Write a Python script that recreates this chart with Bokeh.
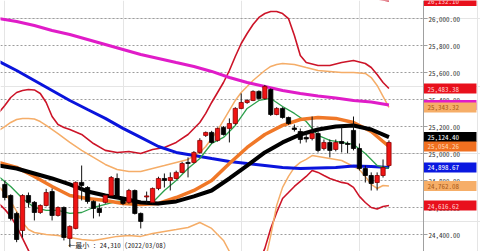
import numpy as np
from bokeh.plotting import figure
from bokeh.models import (Range1d, SingleIntervalTicker, NumeralTickFormatter, Label,
                          LinearAxis, Grid, BoxAnnotation)
from bokeh.embed import file_html
from bokeh.resources import INLINE

FONT = "'Noto Sans Mono CJK JP', 'DejaVu Sans Mono', monospace"

# ---- daily candles ----
opens = [24773, 24691, 24558, 24432, 24691, 24640, 24565, 24617, 24720, 24543,
         24602, 24373, 24447, 24788, 24750, 24647, 24595, 24640, 24691, 24817,
         24662, 24640, 24728, 24558, 24680, 24640, 24743, 24817, 24802, 24817,
         24862, 24936, 24936, 25010, 25136, 25158, 25099, 25195, 25188, 25224,
         25336, 25380, 25395, 25462, 25410, 25476, 25291, 25336, 25269, 25191,
         25165, 25121, 25113, 25150, 25039, 25084, 25032, 25091, 25076, 25173,
         25039, 24891, 24839, 24787, 24839, 24913]
highs = [24800, 24700, 24570, 24700, 24713, 24650, 24625, 24740, 24743, 24610,
         24610, 24470, 24795, 24913, 24760, 24655, 24632, 24700, 24835, 24854,
         24670, 24740, 24735, 24565, 24720, 24750, 24830, 24854, 24862, 24875,
         24940, 24973, 25020, 25115, 25165, 25170, 25195, 25205, 25262, 25345,
         25447, 25405, 25470, 25470, 25510, 25485, 25345, 25345, 25275, 25217,
         25187, 25158, 25276, 25173, 25106, 25106, 25106, 25195, 25091, 25276,
         25076, 24913, 24862, 24862, 24958, 25099]
lows = [24655, 24505, 24345, 24380, 24602, 24506, 24555, 24610, 24506, 24535,
        24358, 24310, 24440, 24654, 24630, 24521, 24536, 24630, 24685, 24665,
        24620, 24630, 24550, 24447, 24632, 24630, 24730, 24750, 24728, 24810,
        24855, 24825, 24930, 25000, 25125, 25075, 25090, 25135, 25084, 25215,
        25330, 25370, 25390, 25400, 25400, 25280, 25285, 25260, 25215, 25165,
        25076, 25084, 25099, 25010, 25025, 24973, 25018, 25010, 25003, 25025,
        24876, 24787, 24728, 24728, 24824, 24898]
closes = [24676, 24521, 24365, 24691, 24640, 24565, 24617, 24713, 24543, 24602,
          24380, 24462, 24788, 24765, 24647, 24595, 24565, 24691, 24824, 24676,
          24632, 24728, 24558, 24499, 24688, 24743, 24817, 24802, 24824, 24862,
          24928, 24928, 25010, 25099, 25158, 25084, 25188, 25143, 25224, 25336,
          25380, 25395, 25462, 25410, 25499, 25291, 25336, 25269, 25224, 25180,
          25106, 25110, 25150, 25025, 25084, 25025, 25084, 25076, 25069, 25039,
          24891, 24839, 24780, 24839, 24898, 25084]

# ---- moving averages ----
ma_x = [-1, 2, 5, 8, 11, 14, 17, 20, 23, 26, 29, 32, 35, 38, 41, 44, 47, 50, 53, 56, 59, 62, 65]
ma_long = [26002, 25980, 25950, 25913, 25884, 25847, 25810, 25773, 25736, 25706, 25676, 25647,
           25610, 25565, 25528, 25499, 25469, 25447, 25428, 25413, 25395, 25384, 25362]
ma_mid = [25684, 25617, 25543, 25469, 25395, 25328, 25262, 25188, 25121, 25054, 25010, 24988,
          24965, 24943, 24928, 24914, 24899, 24891, 24895, 24899, 24910, 24906, 24899]
ma_black = [24913, 24891, 24854, 24817, 24773, 24721, 24691, 24669, 24639, 24632, 24647, 24684,
            24728, 24817, 24913, 25010, 25084, 25143, 25180, 25202, 25210, 25180, 25124]
ma_orange = [24936, 24899, 24832, 24758, 24691, 24669, 24654, 24632, 24625, 24632, 24676, 24728,
             24802, 24928, 25047, 25143, 25210, 25254, 25269, 25262, 25232, 25165, 25054]

ma5_x = [-1] + list(range(1, 66, 2))
ma5 = [24830, 24758, 24669, 24602, 24580, 24580, 24558, 24565, 24602, 24625, 24647, 24654,
       24625, 24639, 24728, 24802, 24891, 24965, 25076, 25121, 25210, 25336, 25395, 25410,
       25350, 25299, 25239, 25136, 25099, 25084, 25069, 25002, 24913, 24891]

# ---- bands ----
u2_x = [-1, 0, 1, 2, 3, 4, 5, 6, 7, 8, 9, 10, 11, 13, 15, 17, 19, 21, 23, 25, 27, 29, 31, 32, 33,
        34, 35, 36, 37, 38, 39, 40, 41, 42, 43, 44, 45, 46, 47, 48, 49, 50, 51, 53, 55, 57, 59,
        61, 62, 63, 64, 65]
u2 = [25306, 25358, 25417, 25454, 25469, 25476, 25473, 25447, 25380, 25276, 25217, 25195, 25180,
      25143, 25076, 25025, 25010, 25017, 25002, 25032, 25047, 25084, 25143, 25187, 25232, 25299,
      25380, 25454, 25528, 25617, 25721, 25817, 25891, 25958, 26010, 26039, 26054, 26054, 26039,
      26002, 25876, 25728, 25676, 25654, 25654, 25676, 25691, 25669, 25639, 25587, 25528, 25483.38]

u1_x = [-1, 0, 1, 2, 3, 4, 5, 6, 7, 9, 11, 13, 15, 17, 19, 21, 23, 25, 27, 29, 31, 33, 34, 35,
        36, 37, 38, 39, 40, 41, 42, 43, 44, 45, 46, 47, 49, 51, 53, 55, 57, 59, 61, 62, 63, 64, 65]
u1 = [25173, 25202, 25232, 25254, 25262, 25262, 25258, 25239, 25210, 25150, 25084, 25025, 24973,
      24921, 24884, 24869, 24869, 24891, 24913, 24936, 24958, 25010, 25054, 25113, 25173, 25247,
      25321, 25395, 25454, 25499, 25543, 25580, 25617, 25647, 25662, 25669, 25662, 25639, 25617,
      25610, 25602, 25602, 25595, 25565, 25506, 25425, 25343.32]

l2_x = [-1, 0, 1, 2, 3, 4, 5, 24, 43, 44, 45, 46, 47, 48, 49, 50, 51, 52, 53, 54, 55, 56, 57, 58,
        59, 60, 61, 62, 63, 64, 65]
l2 = [24632, 24588, 24536, 24462, 24373, 24284, 24195, None, 24195, 24299, 24447, 24565, 24669,
      24713, 24758, 24795, 24832, 24876, 24862, 24839, 24817, 24802, 24788, 24780, 24751, 24684,
      24639, 24602, 24591, 24610, 24616.62]

l1_x = [-1, 0, 1, 2, 3, 4, 5, 7, 9, 11, 13, 15, 17, 19, 21, 23, 25, 27, 29, 31, 33, 35, 37, 39,
        41, 44, 45, 46, 47, 48, 49, 50, 51, 52, 53, 55, 57, 59, 60, 61, 62, 63, 64, 65]
l1 = [24758, 24706, 24647, 24573, 24491, 24439, 24417, 24402, 24395, 24380, 24365, 24358, 24373,
      24388, 24395, 24388, 24410, 24425, 24439, 24454, 24491, 24447, 24358, 24195, None, 24195,
      24395, 24617, 24751, 24832, 24899, 24936, 24958, 24987, 24980, 24965, 24950, 24906, 24884,
      24832, 24773, 24743, 24765, 24762.08]

u3_x = [56, 58, 60, 62, 64, 65]
u3 = [26260, 26215, 26180, 26155, 26140, 26132.10]

# ---- price tags on the right ----
tag_vals = [26132.10, 25483.38, 25362.00, 25343.32, 25124.40, 25054.26, 24898.67, 24762.08, 24616.62]
tag_bg = ["#e8101c", "#e8101c", "#e01cc8", "#f6ae68", "#000000", "#f07020", "#0a18e0", "#f6ae68", "#e8101c"]
tag_fg = ["#ffd0d0", "#ffd0d0", "#ffffff", "#a85a18", "#ffffff", "#ffd8b8", "#ffffff", "#a85a18", "#ffd0d0"]

min_label = "←最小 : 24,310 (2022/03/08)"
min_index = 11
min_value = 24310

RED = "#f01414"
DARKRED = "#cc1428"
LIGHTOR = "#f5ad68"

X0, X_AXIS, X1 = -0.73, 70.84, 80.49   # left edge, price-axis position, right edge (candle units)

def arr(v):
    return np.array([np.nan if a is None else a for a in v], dtype=float)

p = figure(width=480, height=251, output_backend="svg", toolbar_location=None,
           x_range=Range1d(X0, X1), y_range=Range1d(24276, 26135.6),
           x_axis_location=None, y_axis_location=None,
           min_border_left=0, min_border_right=0, min_border_top=0, min_border_bottom=0)
p.outline_line_color = None

ticker = SingleIntervalTicker(interval=200, num_minor_ticks=0)
grid = Grid(dimension=1, ticker=ticker, grid_line_color="#9c9c9c", grid_line_dash="2 2")
try:
    grid.cross_bounds = (X0, X_AXIS)
    p.add_layout(grid)
except Exception:
    p.add_layout(grid)
    p.add_layout(BoxAnnotation(left=X_AXIS, fill_color="white", fill_alpha=1.0,
                               line_color=None, level="glyph"))

yaxis = LinearAxis(ticker=ticker, formatter=NumeralTickFormatter(format="0,0.00"),
                   fixed_location=X_AXIS)
yaxis.major_label_text_font = FONT
yaxis.major_label_text_font_size = "7px"
yaxis.major_label_text_color = "#333333"
yaxis.axis_line_color = "#a0a0a0"
yaxis.major_tick_line_color = "#a0a0a0"
yaxis.major_tick_out = 4
yaxis.major_tick_in = 0
yaxis.minor_tick_line_color = None
yaxis.major_label_standoff = 1
p.add_layout(yaxis, "right")

# bands
p.line(u3_x, arr(u3), line_color=DARKRED, line_width=1.6)
p.line(u2_x, arr(u2), line_color=DARKRED, line_width=1.6)
p.line(l2_x, arr(l2), line_color=DARKRED, line_width=1.6)
p.line(u1_x, arr(u1), line_color=LIGHTOR, line_width=1.5)
p.line(l1_x, arr(l1), line_color=LIGHTOR, line_width=1.5)
# moving averages
p.line(ma_x, ma_long, line_color="#e01cc8", line_width=3)
p.line(ma_x, ma_mid, line_color="#0a14dc", line_width=3)
p.line(ma5_x, ma5, line_color="#2ca04c", line_width=1.3)
p.line(ma_x, ma_orange, line_color="#f07828", line_width=3.5)
p.line(ma_x, ma_black, line_color="#000000", line_width=4)

# candles
idx = list(range(len(opens)))
up = [c >= o for o, c in zip(opens, closes)]
tops = [max(o, c) for o, c in zip(opens, closes)]
bots = [min(o, c) for o, c in zip(opens, closes)]
fills = [RED if u else "#000000" for u in up]
edges = ["#8a0000" if u else "#000000" for u in up]
p.segment(idx, highs, idx, lows, line_color="#111111", line_width=1)
p.vbar(x=idx, width=0.72, top=tops, bottom=bots, fill_color=fills, line_color=edges, line_width=0.8)

for v, bg, fg in zip(tag_vals, tag_bg, tag_fg):
    p.add_layout(Label(x=X_AXIS, y=v, x_offset=0.5,
                       text="\u00a0" + f"{v:,.2f}" + "\u00a0" * 5,
                       text_font=FONT, text_font_size="7px", text_color=fg,
                       background_fill_color=bg, text_baseline="middle", text_align="left"))

p.add_layout(Label(x=min_index, y=min_value, text=min_label, text_font=FONT, text_font_size="7px",
                   text_color="#222222", text_baseline="middle", text_align="left",
                   x_offset=-1.5, y_offset=2))

open("out.html", "w").write(file_html(p, INLINE))
